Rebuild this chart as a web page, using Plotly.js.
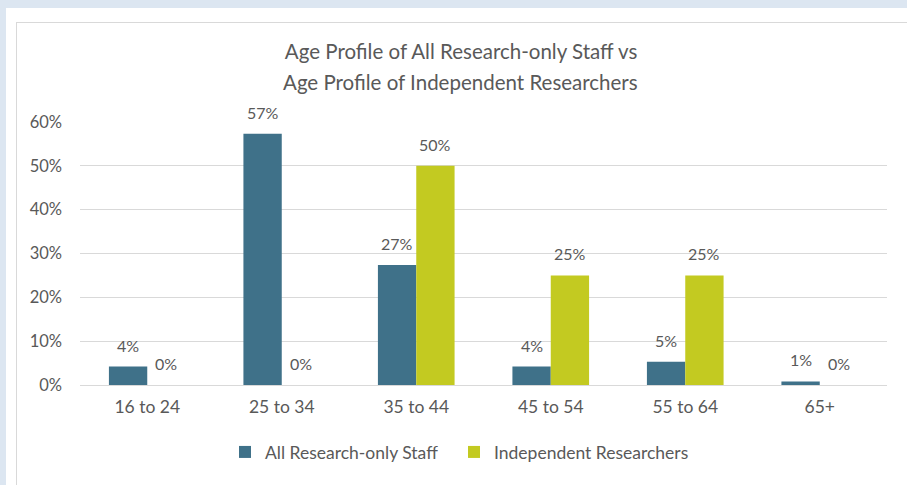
<!DOCTYPE html>
<html>
<head>
<meta charset="utf-8">
<script src="https://cdn.plot.ly/plotly-3.0.1.min.js"></script>
<style>
  html, body { margin: 0; padding: 0; background: #dce6f1; width: 907px; height: 485px; overflow: hidden; }
  #sheet { position: absolute; left: 6px; top: 8px; width: 901px; height: 477px; background: #ffffff; }
  #box { position: absolute; left: 10px; top: 14px; width: 891px; height: 463px; border-left: 1px solid #d9d9d9; border-top: 1px solid #d9d9d9; background: #ffffff; }
  #chart { position: absolute; left: 0; top: 0; width: 890px; height: 462px; }
</style>
</head>
<body>
<div id="sheet"><div id="box"><div id="chart"></div></div></div>
<script>
const categories = ["16 to 24", "25 to 34", "35 to 44", "45 to 54", "55 to 64", "65+"];
const allStaff = [0.042, 0.573, 0.274, 0.042, 0.053, 0.008];
const independent = [0, 0, 0.50, 0.25, 0.25, 0];
const seriesNames = ["All Research-only Staff", "Independent Researchers"];
const titleLines = ["Age Profile of All Research-only Staff vs", "Age Profile of Independent Researchers"];
const yTicks = [0, 0.1, 0.2, 0.3, 0.4, 0.5, 0.6];

const fontFam = "Lato, 'Open Sans', sans-serif";
const grey = "#595959";
const colors = ["#3f7189", "#c3ca21"];
const bargap = 0.43;

const traces = [
  { type: "bar", name: seriesNames[0], x: categories, y: allStaff, marker: { color: colors[0] }, hoverinfo: "none", legendwidth: 184 },
  { type: "bar", name: seriesNames[1], x: categories, y: independent, marker: { color: colors[1] }, hoverinfo: "none", legendwidth: 230 }
];

// value labels above each bar (outside end), placed through the axes
const half = (1 - bargap) / 4;
const labelAnns = [];
[allStaff, independent].forEach(function (vals, s) {
  vals.forEach(function (v, i) {
    labelAnns.push({
      xref: "x", yref: "y", x: i + (s === 0 ? -half : half), y: v,
      text: Math.round(v * 100) + "%", showarrow: false,
      xanchor: "center", yanchor: "bottom", yshift: 10,
      font: { family: fontFam, size: 16, color: grey }
    });
  });
});

const layout = {
  width: 890, height: 462,
  paper_bgcolor: "#ffffff", plot_bgcolor: "#ffffff",
  margin: { l: 63, r: 20, t: 99, b: 100 },
  font: { family: fontFam, size: 16, color: grey },
  title: { text: titleLines[0], x: 0.499, xanchor: "center", y: 1 - 29/462, yanchor: "middle", yref: "container",
           font: { family: fontFam, size: 20.5, color: grey } },
  annotations: [
    { text: titleLines[1], xref: "paper", yref: "paper", x: 0.472, y: 1 + (99 - 59) / 263, xanchor: "center", yanchor: "middle",
      showarrow: false, font: { family: fontFam, size: 20.5, color: grey } }
  ].concat(labelAnns),
  barmode: "group", bargap: bargap, bargroupgap: 0,
  showlegend: true,
  legend: { orientation: "h", x: 0.1797, xanchor: "left", y: -0.255, yanchor: "middle",
            entrywidthmode: "pixels", itemwidth: 30,
            font: { family: fontFam, size: 17.5, color: grey }, traceorder: "normal" },
  xaxis: { type: "category", showgrid: false, showline: false, ticks: "", tickfont: { family: fontFam, size: 17.5, color: grey }, ticklabelstandoff: 9, fixedrange: true },
  yaxis: { range: [0, 0.6], tickvals: yTicks, tickformat: ".0%", showgrid: true, gridcolor: "#d9d9d9", gridwidth: 1,
           zeroline: true, zerolinecolor: "#d9d9d9", zerolinewidth: 1, showline: false, ticks: "",
           ticklabelstandoff: 17, tickfont: { family: fontFam, size: 16.5, color: grey }, fixedrange: true }
};

Plotly.newPlot("chart", traces, layout, { displayModeBar: false, staticPlot: true });
</script>
</body>
</html>
